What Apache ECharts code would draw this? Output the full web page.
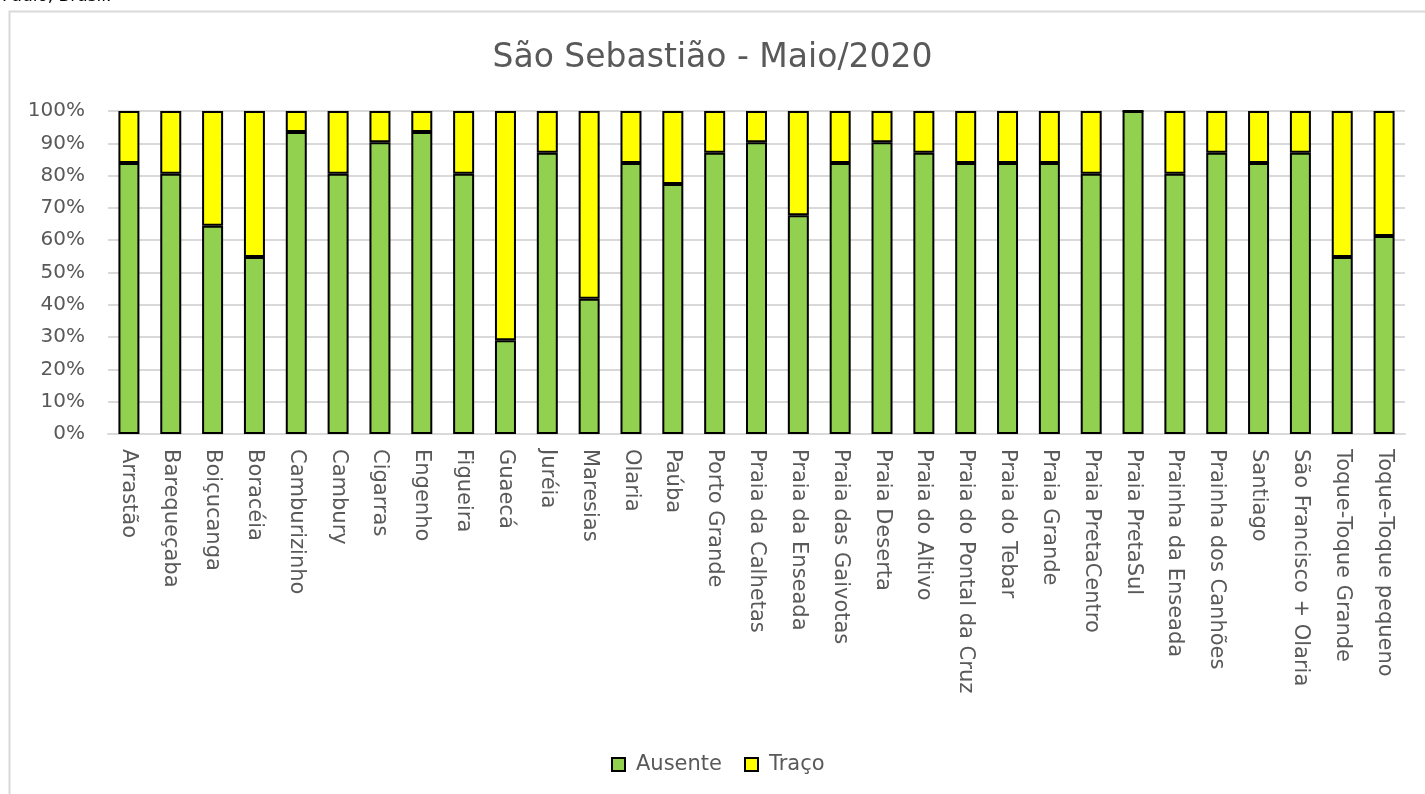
<!DOCTYPE html>
<html>
<head>
<meta charset="utf-8">
<script src="https://cdn.jsdelivr.net/npm/echarts@6/dist/echarts.min.js"></script>
<style>
  html, body { margin: 0; padding: 0; background: #fff; }
  #chart { width: 1425px; height: 794px; }
</style>
</head>
<body>
<div id="chart"></div>
<script>
  const praias = [
    "Arrastão", "Barequeçaba", "Boiçucanga", "Boracéia", "Camburizinho", "Cambury",
    "Cigarras", "Engenho", "Figueira", "Guaecá", "Juréia", "Maresias", "Olaria", "Paúba",
    "Porto Grande", "Praia da Calhetas", "Praia da Enseada", "Praia das Gaivotas",
    "Praia Deserta", "Praia do Altivo", "Praia do Pontal da Cruz", "Praia do Tebar",
    "Praia Grande", "Praia PretaCentro", "Praia PretaSul", "Prainha da Enseada",
    "Prainha dos Canhões", "Santiago", "São Francisco + Olaria", "Toque-Toque Grande",
    "Toque-Toque pequeno",
  ];

  // % of days in May
  const ausente = [
    83.9, 80.6, 64.5, 54.8, 93.5, 80.6, 90.3, 93.5, 80.6, 29.0, 87.1, 41.9, 83.9, 77.4,
    87.1, 90.3, 67.7, 83.9, 90.3, 87.1, 83.9, 83.9, 83.9, 80.6, 100, 80.6, 87.1, 83.9,
    87.1, 54.8, 61.3,
  ];
  const traco = [
    16.1, 19.4, 35.5, 45.2, 6.5, 19.4, 9.7, 6.5, 19.4, 71.0, 12.9, 58.1, 16.1, 22.6,
    12.9, 9.7, 32.3, 16.1, 9.7, 12.9, 16.1, 16.1, 16.1, 19.4, 0, 19.4, 12.9, 16.1,
    12.9, 45.2, 38.7,
  ];

  const font = "DejaVu Sans";
  const textColor = "#595959";

  const chart = echarts.init(document.getElementById("chart"));
  chart.setOption({
    backgroundColor: "#fff",
    animation: false,
    textStyle: { fontFamily: font },
    title: {
      text: "São Sebastião - Maio/2020",
      left: "center",
      top: 37,
      textStyle: { fontFamily: font, fontSize: 33, fontWeight: "normal", color: textColor },
    },
    graphic: [
      {
        type: "rect",
        shape: { x: 9.5, y: 11.5, width: 1440, height: 800 },
        style: { fill: null, stroke: "#d9d9d9", lineWidth: 2 },
        silent: true,
      },
      {
        type: "text",
        left: 2,
        top: -12,
        style: { text: "Paulo, Brasil.", font: "17px " + font, fill: "#000" },
        silent: true,
      },
    ],
    grid: { left: 108, right: 20, top: 111, bottom: 360 },
    legend: {
      bottom: 14,
      left: 606,
      itemWidth: 13,
      itemHeight: 13,
      itemGap: 22,
      icon: "rect",
      textStyle: { fontFamily: font, fontSize: 21, color: textColor, padding: [0, 0, 0, 6] },
      data: ["Ausente", "Traço"],
    },
    xAxis: {
      type: "category",
      data: praias,
      axisLine: { lineStyle: { color: "#d9d9d9", width: 2 } },
      axisTick: { show: false },
      axisLabel: {
        interval: 0,
        rotate: -90,
        margin: 15,
        fontFamily: font,
        fontSize: 21,
        color: textColor,
      },
    },
    yAxis: {
      type: "value",
      min: 0,
      max: 100,
      interval: 10,
      axisLine: { show: false },
      axisTick: { show: false },
      splitLine: { lineStyle: { color: "#d9d9d9", width: 2 } },
      axisLabel: {
        formatter: (v) => v + "%",
        margin: 23,
        fontFamily: font,
        fontSize: 20,
        color: textColor,
      },
    },
    series: [
      {
        name: "Ausente",
        type: "bar",
        stack: "total",
        barWidth: 21,
        itemStyle: { color: "#92d050", borderColor: "#000", borderWidth: 2 },
        data: ausente,
      },
      {
        name: "Traço",
        type: "bar",
        stack: "total",
        barWidth: 21,
        itemStyle: { color: "#ffff00", borderColor: "#000", borderWidth: 2 },
        data: traco,
      },
    ],
  });
</script>
</body>
</html>
